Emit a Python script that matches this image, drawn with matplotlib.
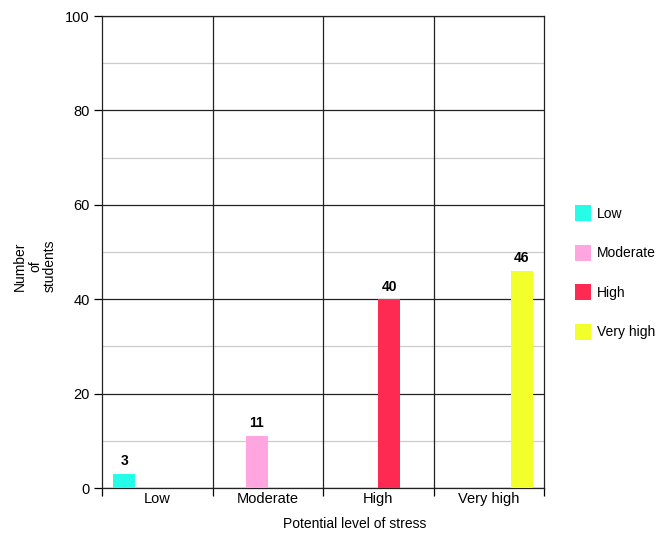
import matplotlib
matplotlib.use("Agg")
import matplotlib.pyplot as plt
import numpy as np
from matplotlib.patches import Patch

plt.rcParams['font.family'] = ['Liberation Sans', 'DejaVu Sans']

categories = ["Low", "Moderate", "High", "Very high"]
series_names = ["Low", "Moderate", "High", "Very high"]
counts = [3, 11, 40, 46]
colors = ["#26FCE8", "#FFA6E0", "#FF2A52", "#F2FF2A"]
y_ticks = [0, 20, 40, 60, 80, 100]

fig = plt.figure(figsize=(6.57, 5.33), dpi=100)
ax = fig.add_axes([102/657, 45/533, 442/657, 472/533])

n = len(categories)
bar_w = 0.2
x0 = np.arange(n)

# grouped bars: each series has a value only in its own category
for i, (name, val, col) in enumerate(zip(series_names, counts, colors)):
    vals = [val if j == i else 0 for j in range(n)]
    xs = x0 - 0.3 + i * bar_w
    ax.bar(xs, vals, width=bar_w, color=col, zorder=3, label=name)
    ax.text(xs[i], val + 1.2, str(val), ha='center', va='bottom',
            fontsize=10, fontweight='bold', zorder=4)

ax.set_xlim(-0.5, n - 0.5)
ax.set_ylim(0, 100)

# horizontal grid: black majors, light grey minors
ax.set_yticks(y_ticks)
ax.set_yticks(np.arange(10, 100, 20), minor=True)
ax.yaxis.grid(True, which='major', color='#222222', lw=0.9, zorder=1)
ax.yaxis.grid(True, which='minor', color='#cccccc', lw=0.9, zorder=1)
ax.tick_params(axis='y', which='minor', length=0)
ax.tick_params(axis='y', which='major', direction='out', length=6,
               width=0.9, labelsize=10.5, pad=3)

# category boundaries as vertical lines with ticks below
bounds = np.arange(n + 1) - 0.5
for b in bounds[1:-1]:
    ax.axvline(b, color='#222222', lw=0.9, zorder=2)
ax.set_xticks(bounds)
ax.set_xticklabels([])
ax.tick_params(axis='x', which='major', direction='out', length=6, width=0.9)
ax.set_xticks(x0, minor=True)
ax.set_xticklabels(categories, minor=True, fontsize=10.5)
ax.tick_params(axis='x', which='minor', length=0, pad=3)

for s in ax.spines.values():
    s.set_color('#222222')
    s.set_linewidth(0.9)
    s.set_zorder(2)

fig.text(355/657, 1 - 524/533, "Potential level of stress", ha='center',
         va='center', fontsize=10)
fig.text(35/657, 1 - 266/533, "Number\nof\nstudents", ha='center',
         va='center', rotation=90, fontsize=10, linespacing=1.1)

handles = [Patch(facecolor=c, edgecolor='none', label=s)
           for s, c in zip(series_names, colors)]
fig.legend(handles=handles, loc='upper left',
           bbox_to_anchor=(575/657, 1 - 205/533), frameon=False,
           fontsize=10, handlelength=1.15, handleheight=1.4,
           labelspacing=1.69, handletextpad=0.45, borderaxespad=0,
           borderpad=0)

fig.savefig("out.png", dpi=100)
